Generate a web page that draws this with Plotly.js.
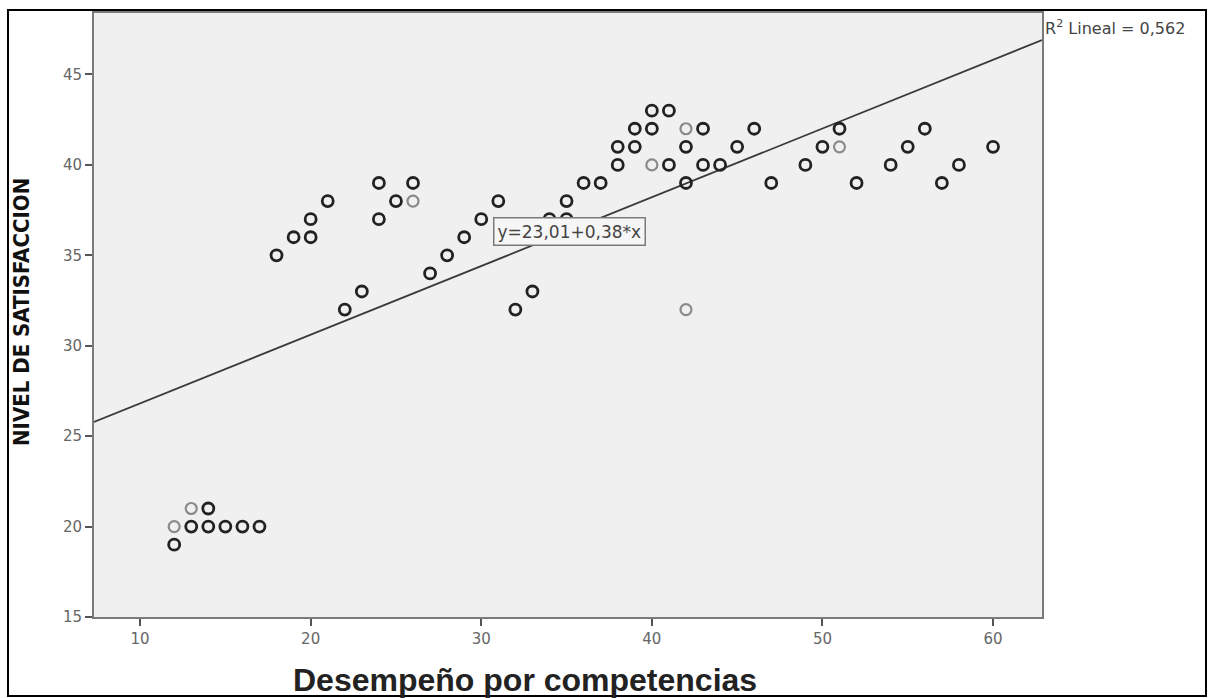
<!DOCTYPE html>
<html>
<head>
<meta charset="utf-8">
<script src="https://cdn.plot.ly/plotly-3.0.1.min.js"></script>
<style>
  html, body { margin: 0; padding: 0; background: #ffffff; }
  #chart { width: 1212px; height: 698px; }
</style>
</head>
<body>
<div id="chart"></div>
<script>
// Desempeño por competencias (x) vs NIVEL DE SATISFACCION (y)
const darkX = [12,13,14,15,16,17,14,18,19,20,20,21,22,23,24,24,25,26,27,28,29,30,31,32,33,34,35,35,36,37,38,38,39,39,40,40,41,41,42,42,43,43,44,45,46,47,49,50,51,52,54,55,56,57,58,60];
const darkY = [19,20,20,20,20,20,21,35,36,36,37,38,32,33,37,39,38,39,34,35,36,37,38,32,33,37,37,38,39,39,40,41,41,42,42,43,43,40,39,41,40,42,40,41,42,39,40,41,42,39,40,41,42,39,40,41];
const lightX = [12,13,26,40,42,42,51];
const lightY = [20,21,38,40,42,32,41];

const intercept = 23.01;
const slope = 0.38;
const rSquared = "0,562";
const equationText = "y=23,01+0,38*x";

const xRange = [7.3, 62.87];
const yRange = [15, 48.4];
const xTicks = [10, 20, 30, 40, 50, 60];
const yTicks = [15, 20, 25, 30, 35, 40, 45];

const fitX = [xRange[0], xRange[1]];
const fitY = fitX.map(v => intercept + slope * v);

const traces = [
  {
    x: fitX, y: fitY, type: 'scatter', mode: 'lines',
    line: { color: '#3a3a3a', width: 1.8 },
    hoverinfo: 'skip', showlegend: false
  },
  {
    x: lightX, y: lightY, type: 'scatter', mode: 'markers',
    marker: { symbol: 'circle-open', size: 11, color: '#8a8a8a', line: { width: 2.2 } },
    showlegend: false
  },
  {
    x: darkX, y: darkY, type: 'scatter', mode: 'markers',
    marker: { symbol: 'circle-open', size: 11, color: '#222222', line: { width: 2.8 } },
    showlegend: false
  }
];

const L = 94, R = 1042, T = 13, B = 617;
const px = v => (v - L) / (R - L);
const py = v => (B - v) / (B - T);

const tickFont = { family: 'DejaVu Sans, Arial, sans-serif', size: 15, color: '#666666' };

const layout = {
  width: 1212, height: 698,
  margin: { l: L, r: 1212 - R, t: T, b: 698 - B, pad: 0 },
  paper_bgcolor: '#ffffff',
  plot_bgcolor: '#f0f0f0',
  showlegend: false,
  font: { family: 'DejaVu Sans, Arial, sans-serif', color: '#555555', size: 15 },
  xaxis: {
    range: xRange, tickvals: xTicks, ticktext: xTicks.map(String),
    showgrid: false, zeroline: false,
    showline: true, linecolor: '#7a7a7a', linewidth: 2, mirror: true,
    ticks: 'outside', ticklen: 7, tickwidth: 2, tickcolor: '#555555',
    tickfont: tickFont
  },
  yaxis: {
    range: yRange, tickvals: yTicks, ticktext: yTicks.map(String),
    showgrid: false, zeroline: false,
    showline: true, linecolor: '#7a7a7a', linewidth: 2, mirror: true,
    ticks: 'outside', ticklen: 7, tickwidth: 2, tickcolor: '#555555',
    tickfont: tickFont
  },
  annotations: [
    {
      text: equationText, x: 35.15, y: 36.3, xref: 'x', yref: 'y',
      xanchor: 'center', yanchor: 'middle', showarrow: false,
      font: { family: 'DejaVu Sans, Arial, sans-serif', size: 17, color: '#444444' },
      bgcolor: '#f6f6f6', bordercolor: '#7a7a7a', borderwidth: 1.5, borderpad: 3
    },
    {
      text: 'R<sup>2</sup> Lineal = ' + rSquared, x: px(1043), y: py(27),
      xref: 'paper', yref: 'paper', xanchor: 'left', yanchor: 'middle', showarrow: false,
      font: { family: 'DejaVu Sans, Arial, sans-serif', size: 16, color: '#444444' }
    },
    {
      text: '<b>NIVEL DE SATISFACCION</b>', x: px(21), y: py(312), textangle: -90,
      xref: 'paper', yref: 'paper', xanchor: 'center', yanchor: 'middle', showarrow: false,
      font: { family: 'Liberation Sans Narrow, DejaVu Sans Condensed, Arial Narrow, sans-serif', size: 22, color: '#111111' }
    },
    {
      text: '<b>Desempeño por competencias</b>', x: px(525), y: py(680),
      xref: 'paper', yref: 'paper', xanchor: 'center', yanchor: 'middle', showarrow: false,
      font: { family: 'Liberation Sans, Arial, sans-serif', size: 32, color: '#222222' }
    }
  ],
  shapes: [
    {
      type: 'rect', xref: 'paper', yref: 'paper',
      x0: px(8), x1: px(1206), y0: py(696), y1: py(10),
      line: { color: '#000000', width: 2 }, fillcolor: 'rgba(0,0,0,0)', layer: 'above'
    }
  ]
};

Plotly.newPlot('chart', traces, layout, { displayModeBar: false, staticPlot: true });
</script>
</body>
</html>
